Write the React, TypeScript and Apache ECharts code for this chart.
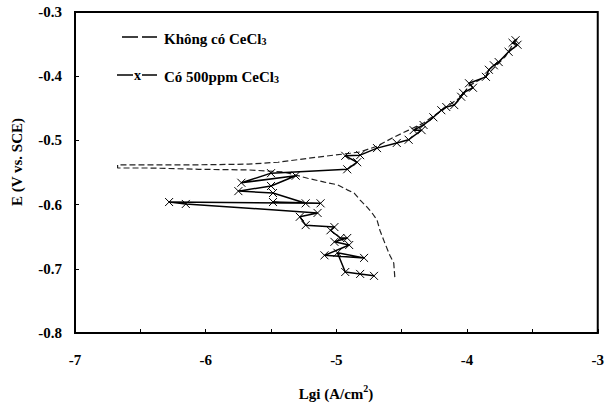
import React, { useEffect, useRef } from 'react';
import * as echarts from 'echarts';

// Series 1: "Không có CeCl3" (dashed) — potential sweep order
const noCeLgi = [
  -4.553, -4.561, -4.591, -4.629, -4.667, -4.689, -4.727, -4.765, -4.818, -4.864,
  -4.917, -4.992, -5.091, -5.220, -5.311, -5.409, -5.674, -6.053, -6.432, -6.674,
  -6.674, -6.432, -6.053, -5.674, -5.447, -5.144, -4.894, -4.818, -4.689, -4.561,
  -4.447, -4.333, -4.235, -4.159, -4.045, -3.985, -3.856, -3.780, -3.705, -3.652, -3.614,
];
const noCeE = [
  -0.713, -0.691, -0.679, -0.660, -0.640, -0.624, -0.613, -0.604, -0.593, -0.582,
  -0.577, -0.569, -0.565, -0.559, -0.554, -0.549, -0.546, -0.545, -0.543, -0.543,
  -0.538, -0.538, -0.538, -0.537, -0.534, -0.526, -0.520, -0.518, -0.509, -0.495,
  -0.484, -0.473, -0.459, -0.448, -0.432, -0.415, -0.400, -0.384, -0.369, -0.351, -0.341,
];

// Series 2: "Có 500ppm CeCl3" (solid with x markers)
const ceLgi = [
  -4.712, -4.818, -4.932, -4.992, -4.788, -5.091, -4.902, -5.015, -4.917, -4.970,
  -5.045, -5.015, -5.235, -5.280, -5.144, -6.152, -6.280, -5.121, -5.485, -5.235,
  -5.485, -5.750, -5.500, -5.311, -5.727, -5.500, -4.917, -4.841, -4.932, -4.818,
  -4.689, -4.538, -4.447, -4.348, -4.409, -4.333, -4.258, -4.197, -4.159, -4.098,
  -4.045, -4.030, -3.955, -3.985, -3.856, -3.833, -3.795, -3.758, -3.682, -3.614,
  -3.652, -3.629,
];
const ceE = [
  -0.711, -0.708, -0.705, -0.675, -0.683, -0.679, -0.663, -0.658, -0.652, -0.652,
  -0.640, -0.635, -0.632, -0.619, -0.613, -0.599, -0.596, -0.598, -0.596, -0.598,
  -0.582, -0.579, -0.571, -0.555, -0.566, -0.551, -0.545, -0.534, -0.524, -0.523,
  -0.512, -0.504, -0.499, -0.484, -0.484, -0.476, -0.464, -0.453, -0.448, -0.445,
  -0.432, -0.426, -0.418, -0.411, -0.401, -0.390, -0.383, -0.378, -0.362, -0.351,
  -0.348, -0.344,
];

const xMin = -7;
const xMax = -3;
const yMin = -0.8;
const yMax = -0.3;

const FONT = 'Liberation Serif';

export default function App() {
  const ref = useRef<HTMLDivElement>(null);
  useEffect(() => {
    if (!ref.current) return;
    const chart = echarts.init(ref.current, null, { renderer: 'svg' });
    const d1 = noCeLgi.map((v, i) => [v, noCeE[i]]);
    const d2 = ceLgi.map((v, i) => [v, ceE[i]]);
    const m = { fontFamily: FONT, fontWeight: 'bold', fontSize: 15, fill: '#000', lineHeight: 18, verticalAlign: 'bottom' };
    const s = { fontFamily: FONT, fontWeight: 'bold', fontSize: 10, fill: '#000', lineHeight: 18, verticalAlign: 'bottom' };
    chart.setOption({
      animation: false,
      backgroundColor: '#fff',
      textStyle: { fontFamily: FONT, fontWeight: 'bold' },
      grid: {
        left: 75, right: 4, top: 12, bottom: 81,
        show: true, borderColor: '#000', borderWidth: 2, backgroundColor: 'transparent',
      },
      xAxis: {
        type: 'value', min: xMin, max: xMax, interval: 0.5,
        splitLine: { show: false },
        axisLine: { onZero: false, lineStyle: { color: '#000', width: 2 } },
        axisTick: { inside: true, length: 4, lineStyle: { color: '#000', width: 1 } },
        axisLabel: {
          margin: 19,
          formatter: (v: number) => (Math.abs(v - Math.round(v)) < 1e-9 ? '{t|' + Math.round(v) + '}' : ''),
          rich: { t: { fontFamily: FONT, fontWeight: 'bold', fontSize: 15, color: '#000' } },
        },
      },
      yAxis: {
        type: 'value', min: yMin, max: yMax, interval: 0.1,
        splitLine: { show: false },
        axisLine: { onZero: false, lineStyle: { color: '#000', width: 2 } },
        axisTick: { inside: true, length: 4, lineStyle: { color: '#000', width: 1 } },
        axisLabel: {
          margin: 13,
          formatter: (v: number) => '{t|' + v.toFixed(1) + '}',
          rich: { t: { fontFamily: FONT, fontWeight: 'bold', fontSize: 15, color: '#000' } },
        },
      },
      graphic: [
        {
          type: 'text', x: 336, y: 392, z: 10,
          style: {
            text: '{m|Lgi (A/cm}{p|2}{m|)}',
            align: 'center', verticalAlign: 'middle',
            rich: {
              m,
              p: { fontFamily: FONT, fontWeight: 'bold', fontSize: 10, fill: '#000', lineHeight: 18, verticalAlign: 'top', padding: [0, 0, 6, 0] },
            },
          },
        },
        {
          type: 'text', x: 15, y: 162, rotation: Math.PI / 2, z: 10,
          style: {
            text: '{m|E (V vs. SCE)}',
            align: 'center', verticalAlign: 'middle',
            rich: { m },
          },
        },
        // legend
        { type: 'line', shape: { x1: 122, y1: 37, x2: 138, y2: 37 }, style: { stroke: '#000', lineWidth: 1.5 } },
        { type: 'line', shape: { x1: 142, y1: 37, x2: 157, y2: 37 }, style: { stroke: '#000', lineWidth: 1.5 } },
        {
          type: 'text', x: 164, y: 37,
          style: { text: '{m|Không có CeCl}{s|3}', verticalAlign: 'middle', rich: { m, s } },
        },
        { type: 'line', shape: { x1: 117, y1: 75, x2: 133, y2: 75 }, style: { stroke: '#000', lineWidth: 1.5 } },
        { type: 'line', shape: { x1: 142, y1: 75, x2: 157, y2: 75 }, style: { stroke: '#000', lineWidth: 1.5 } },
        {
          type: 'text', x: 137.5, y: 75,
          style: { text: '{x|x}', align: 'center', verticalAlign: 'middle', rich: { x: { ...m, fontSize: 14, lineHeight: 14 } } },
        },
        {
          type: 'text', x: 164, y: 75,
          style: { text: '{m|Có 500ppm CeCl}{s|3}', verticalAlign: 'middle', rich: { m, s } },
        },
      ],
      series: [
        {
          name: 'Không có CeCl3', type: 'line', data: d1, symbol: 'none',
          lineStyle: { color: '#222', width: 1.2, type: [6, 3] },
          z: 2,
        },
        {
          name: 'Có 500ppm CeCl3', type: 'line', data: d2,
          symbol: 'path://M0,0L10,10M10,0L0,10', symbolSize: 8,
          itemStyle: { color: 'rgba(0,0,0,0)', borderColor: '#000', borderWidth: 1 },
          lineStyle: { color: '#000', width: 1.5 },
          z: 3,
        },
      ],
    });
    return () => chart.dispose();
  }, []);
  return <div ref={ref} style={{ position: 'fixed', left: 0, top: 0, width: 607, height: 414, background: '#fff' }} />;
}
